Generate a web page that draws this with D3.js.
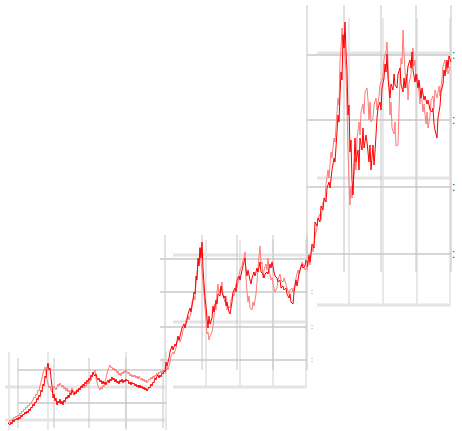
<!DOCTYPE html>
<html>
<head>
<meta charset="utf-8">
<script src="https://cdn.jsdelivr.net/npm/d3@7"></script>
<style>
  body { margin: 0; background: #fff; }
</style>
</head>
<body>
<div class="stage"></div>
<script>
// series values, [day, value] per panel
var darkP1 = [[0,5],[2,3],[3,6],[4,4],[5,8],[6,6],[7,9],[8,8],[9,10],[10,8],[11,11],[12,9],[13,13],[14,11],[15,14],[16,13],[17,16],[18,14],[19,17],[20,15],[21,19],[22,17],[23,21],[24,20],[25,24],[26,22],[27,26],[28,25],[29,30],[30,28],[31,33],[32,31],[33,38],[34,36],[35,44],[36,42],[37,52],[38,50],[39,60],[40,65],[41,58],[42,60],[43,50],[44,42],[45,30],[46,34],[47,27],[48,30],[49,23],[50,27],[51,25],[52,29],[53,24],[54,27],[55,23],[56,28],[57,26],[58,31],[59,29],[60,33],[61,30],[62,35],[63,33],[64,38],[65,35],[66,33],[67,36],[68,34],[69,38],[70,36],[71,40],[72,38],[73,42],[74,40],[75,44],[76,42],[77,46],[78,44],[79,48],[80,46],[81,50],[82,48],[83,53],[84,51],[85,56],[86,53],[87,52],[88,54],[89,50],[90,48],[91,50],[92,46],[93,48],[94,44],[95,47],[96,44],[97,46],[98,43],[99,46],[100,48],[101,45],[102,49],[103,47],[104,51],[105,48],[106,50],[107,46],[108,49],[109,45],[110,47],[111,44],[112,48],[113,46],[114,49],[115,45],[116,48],[117,46],[118,49],[119,47],[120,48],[121,44],[122,46],[123,43],[124,46],[125,44],[126,45],[127,42],[128,44],[129,41],[130,43],[131,40],[132,43],[133,40],[134,42],[135,39],[136,41],[137,38],[138,40],[139,37],[140,39],[141,41],[142,40],[143,44],[144,42],[145,46],[146,45],[147,50],[148,48],[149,52],[150,53],[151,50],[152,53],[153,51],[154,55],[155,54],[156,57],[157,56],[158,59],[159,60]];
var lightP1 = [[0,6],[1,5],[2,8],[3,7],[4,9],[5,8],[6,11],[7,10],[8,12],[9,11],[10,13],[11,12],[12,15],[13,14],[14,17],[15,16],[16,19],[17,18],[18,21],[19,20],[20,23],[21,22],[22,25],[23,24],[24,27],[25,28],[26,31],[27,30],[28,34],[29,33],[30,38],[31,37],[32,42],[33,46],[34,50],[35,55],[36,58],[37,61],[38,55],[39,48],[40,44],[41,40],[42,42],[43,37],[44,36],[45,39],[46,42],[47,40],[48,38],[49,41],[50,44],[51,42],[52,45],[53,43],[54,41],[55,43],[56,39],[57,41],[58,37],[59,40],[60,36],[61,38],[62,35],[63,37],[64,40],[65,38],[66,35],[67,37],[68,36],[69,39],[70,37],[71,40],[72,38],[73,41],[74,43],[75,42],[76,40],[77,43],[78,41],[79,44],[80,46],[81,44],[82,48],[83,47],[84,52],[85,54],[86,56],[87,58],[88,50],[89,46],[90,42],[91,40],[92,38],[93,41],[94,39],[95,43],[96,41],[97,46],[98,50],[99,55],[100,58],[101,61],[102,63],[103,60],[104,61],[105,58],[106,60],[107,57],[108,59],[109,55],[110,57],[111,53],[112,55],[113,52],[114,56],[115,54],[116,57],[117,55],[118,58],[119,56],[120,54],[121,56],[122,52],[123,54],[124,51],[125,53],[126,51],[127,53],[128,50],[129,52],[130,49],[131,52],[132,50],[133,48],[134,50],[135,47],[136,49],[137,46],[138,48],[139,45],[140,47],[141,49],[142,48],[143,51],[144,49],[145,52],[146,50],[147,53],[148,52],[149,55],[150,53],[151,56],[152,55],[153,57],[154,55],[155,58],[156,57],[157,58]];

var darkP2 = [[0,20],[1,30],[2,26],[4,34],[5,40],[7,46],[8,42],[10,48],[11,46],[13,56],[14,52],[16,60],[17,64],[19,68],[20,64],[22,72],[23,78],[25,84],[26,80],[28,92],[29,100],[30,98],[31,116],[32,112],[33,134],[34,126],[35,144],[36,134],[37,150],[38,124],[39,108],[40,94],[41,86],[42,74],[43,64],[44,76],[45,68],[47,74],[48,86],[49,80],[51,92],[52,88],[53,98],[55,96],[56,106],[57,100],[59,94],[60,96],[61,86],[62,90],[64,80],[65,78],[67,90],[68,100],[70,104],[71,100],[72,112],[74,116],[75,112],[77,122],[78,126],[80,134],[81,122],[82,116],[83,122],[85,112],[86,108],[87,114],[89,120],[90,116],[92,124],[93,120],[95,130],[96,120],[98,118],[99,114],[100,118],[102,120],[103,118],[105,128],[106,124],[107,130],[109,120],[110,116],[112,114],[113,110],[115,112],[116,104],[118,106],[119,102],[121,104],[122,98],[124,94],[125,98],[126,90],[128,88],[129,100],[131,112],[132,106],[134,118],[135,122],[137,128],[138,124],[140,126],[141,132],[142,129]];
var lightP2 = [[0,18],[2,26],[3,22],[5,30],[6,36],[8,40],[9,38],[11,44],[12,50],[14,54],[15,50],[17,56],[18,62],[20,66],[21,72],[23,76],[24,72],[26,80],[27,90],[29,96],[30,92],[31,110],[32,118],[33,130],[34,128],[35,145],[36,130],[37,122],[38,110],[39,98],[40,84],[41,72],[42,58],[43,60],[44,52],[45,56],[47,60],[48,66],[49,76],[50,88],[51,82],[52,100],[53,108],[54,98],[56,106],[57,110],[58,96],[60,90],[61,96],[62,82],[63,86],[65,84],[66,92],[68,98],[69,96],[71,108],[72,104],[74,116],[75,122],[77,126],[78,132],[79,134],[80,140],[81,114],[82,100],[83,90],[84,96],[85,84],[87,82],[88,90],[89,86],[91,98],[92,110],[93,124],[94,136],[95,146],[96,128],[97,130],[98,114],[99,122],[101,128],[102,122],[103,134],[104,122],[106,112],[107,114],[109,104],[110,100],[112,104],[113,112],[115,118],[116,112],[118,110],[119,114],[121,108],[122,104],[124,98],[125,102],[127,104],[128,100],[130,108],[131,114],[133,122],[134,118],[136,126],[137,130],[139,126],[140,122],[142,125]];

var darkP3 = [[0,43],[2,55],[3,48],[5,66],[7,62],[8,88],[10,84],[11,92],[13,88],[14,104],[16,100],[17,112],[19,108],[20,122],[22,128],[23,122],[25,140],[27,152],[28,148],[30,178],[31,195],[32,188],[33,215],[34,238],[35,230],[36,275],[37,262],[38,288],[39,258],[40,240],[41,195],[42,205],[43,158],[44,170],[45,130],[46,115],[47,145],[48,172],[49,148],[51,160],[52,140],[53,172],[55,160],[56,182],[57,162],[59,175],[60,168],[62,148],[63,165],[64,140],[66,165],[67,145],[68,158],[70,192],[71,202],[73,208],[74,200],[75,222],[77,232],[78,246],[79,238],[80,256],[81,232],[83,212],[84,226],[86,220],[87,236],[88,225],[90,222],[91,236],[93,242],[94,226],[96,218],[97,232],[98,222],[100,234],[101,244],[103,250],[104,242],[105,258],[106,240],[108,228],[109,236],[111,222],[112,230],[114,212],[115,222],[117,210],[118,214],[120,206],[121,210],[123,200],[125,198],[126,202],[127,186],[128,180],[130,172],[131,192],[133,204],[134,218],[136,226],[137,240],[138,234],[140,250],[141,242],[142,254],[144,248]];
var lightP3 = [[0,40],[2,50],[3,45],[5,64],[6,58],[8,74],[10,82],[11,92],[13,96],[14,90],[16,108],[18,110],[19,126],[21,140],[22,132],[24,158],[25,152],[27,172],[28,168],[30,198],[31,212],[32,205],[33,248],[34,262],[35,282],[36,266],[37,276],[38,254],[39,238],[40,200],[41,160],[42,128],[43,105],[44,124],[45,112],[47,135],[48,152],[49,140],[50,172],[52,188],[53,175],[54,198],[56,206],[57,196],[58,218],[60,222],[61,210],[62,190],[63,208],[64,188],[66,192],[67,205],[69,212],[70,200],[72,214],[73,225],[75,230],[76,236],[77,250],[79,258],[80,268],[81,248],[82,222],[83,195],[84,208],[85,182],[87,176],[88,188],[89,164],[91,165],[92,200],[93,230],[94,252],[95,246],[96,280],[97,256],[98,240],[99,222],[100,236],[101,210],[102,226],[104,236],[105,256],[106,262],[107,244],[108,250],[109,228],[110,236],[112,218],[113,206],[114,220],[116,198],[117,206],[119,186],[120,198],[121,182],[123,194],[124,210],[126,214],[127,202],[128,220],[130,212],[132,224],[133,214],[135,232],[136,244],[138,250],[139,238],[140,248],[141,236],[143,243]];

// grid tick values (days / values)
var xTicksP1 = [10, 46, 81, 118, 155], xGhostP1 = [1, 40, 118, 158];
var yTicksP1 = [58, 25], yGhostP1 = [41, 8];
var xTicksP2 = [0, 37, 72, 108, 142], xGhostP2 = [41, 75, 108, 141];
var yTicksP2 = [133, 100, 65, 32], yGhostP2 = [137, 70, 5];
var xTicksP3 = [0, 37, 74, 109, 144], xGhostP3 = [42, 76, 110, 143];
var yTicksP3 = [255, 190, 123, 56], yGhostP3 = [257, 132, 5];

var width = 462;
var height = 431;

var svg = d3.select('.stage')
  .append('svg')
  .attr('width', width)
  .attr('height', height);

// panel layout
var panels = [
  { left: 8, bottom: 428, w: 159, h: 70, dark: darkP1, light: lightP1,
    xt: xTicksP1, xg: xGhostP1, yt: yTicksP1, yg: yGhostP1,
    gridBox: [18, 166, 358, 428], ghostBox: [5, 166, 352, 430], label: null },
  { left: 165, bottom: 392, w: 145, h: 160, dark: darkP2, light: lightP2,
    xt: xTicksP2, xg: xGhostP2, yt: yTicksP2, yg: yGhostP2,
    gridBox: [160, 307, 235, 370], ghostBox: [173, 306, 240, 388], label: { x: 311, size: 7, ticks: [100, 65, 32] } },
  { left: 307, bottom: 310, w: 145, h: 308, dark: darkP3, light: lightP3,
    xt: xTicksP3, xg: xGhostP3, yt: yTicksP3, yg: yGhostP3,
    gridBox: [307, 451, 5, 272], ghostBox: [317, 450, 18, 306], label: { x: 452, size: 12, ticks: yTicksP3 } }
];

panels.forEach(function(p) {
  var x = d3.scaleLinear().domain([0, p.w]).range([p.left, p.left + p.w]);
  var y = d3.scaleLinear().domain([0, p.h]).range([p.bottom, p.bottom - p.h]);
  var g = svg.append('g');

  // ghost grid (lighter, wider)
  g.selectAll('.gv').data(p.xg).enter().append('line')
    .attr('x1', function(d) { return x(d); }).attr('x2', function(d) { return x(d); })
    .attr('y1', p.ghostBox[2]).attr('y2', p.ghostBox[3])
    .attr('stroke', '#e8e8e8').attr('stroke-width', 2);
  g.selectAll('.gh').data(p.yg).enter().append('line')
    .attr('x1', p.ghostBox[0]).attr('x2', p.ghostBox[1])
    .attr('y1', function(d) { return y(d); }).attr('y2', function(d) { return y(d); })
    .attr('stroke', '#e4e4e4').attr('stroke-width', 3);

  // main grid
  g.selectAll('.mv').data(p.xt).enter().append('line')
    .attr('x1', function(d) { return x(d); }).attr('x2', function(d) { return x(d); })
    .attr('y1', p.gridBox[2]).attr('y2', p.gridBox[3])
    .attr('stroke', '#c4c4c4').attr('stroke-width', 1);
  g.selectAll('.mh').data(p.yt).enter().append('line')
    .attr('x1', p.gridBox[0]).attr('x2', p.gridBox[1])
    .attr('y1', function(d) { return y(d); }).attr('y2', function(d) { return y(d); })
    .attr('stroke', '#c8c8c8').attr('stroke-width', 1.5);

  var line = d3.line()
    .x(function(d) { return x(d[0]); })
    .y(function(d) { return y(d[1]); });

  g.append('path').datum(p.light)
    .attr('d', line)
    .attr('fill', 'none')
    .attr('stroke', '#ff7a7a')
    .attr('stroke-width', 1);

  g.append('path').datum(p.dark)
    .attr('d', line)
    .attr('fill', 'none')
    .attr('stroke', '#ff0000')
    .attr('stroke-width', 1);

  // clipped tick labels at the right edge
  if (p.label) {
    g.selectAll('.lbl').data(p.label.ticks).enter().append('text')
      .attr('x', p.label.x)
      .attr('y', function(d) { return y(d) + p.label.size * 0.3; })
      .attr('font-family', 'Liberation Sans')
      .attr('font-size', p.label.size)
      .attr('fill', '#444')
      .text(':');
  }
});
</script>
</body>
</html>
